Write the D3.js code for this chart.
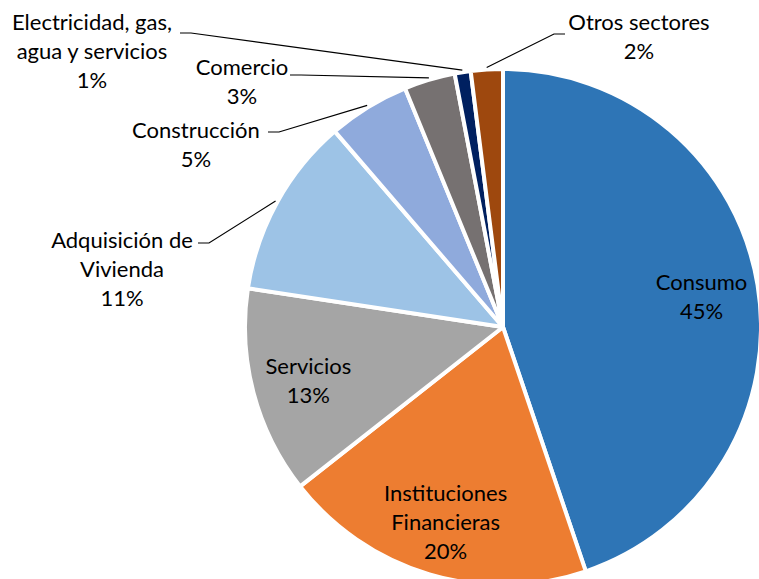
<!DOCTYPE html>
<html>
<head>
<meta charset="utf-8">
<script src="https://cdn.jsdelivr.net/npm/d3@7"></script>
<style>
  body { margin: 0; background: #fff; }
  svg text { font-family: Lato, "Open Sans", sans-serif; font-size: 22px; fill: #000; }
</style>
</head>
<body>
<svg id="chart" width="759" height="579"></svg>
<script>
// data (share of total, %)
const categories = [
  "Consumo",
  "Instituciones Financieras",
  "Servicios",
  "Adquisición de Vivienda",
  "Construcción",
  "Comercio",
  "Electricidad, gas, agua y servicios",
  "Otros sectores",
];
const shares = [44.8, 19.6, 13.0, 11.3, 5.1, 3.2, 1.0, 2.0];
const labelLines = [
  ["Consumo"],
  ["Instituciones", "Financieras"],
  ["Servicios"],
  ["Adquisición de", "Vivienda"],
  ["Construcción"],
  ["Comercio"],
  ["Electricidad, gas,", "agua y servicios"],
  ["Otros sectores"],
];
const colors = [
  "#2E75B6", "#ED7D31", "#A5A5A5", "#9DC3E6",
  "#8FAADC", "#767171", "#002060", "#9E480E",
];

// label layout for the slices whose labels sit outside the pie
// x = text centre, y = first baseline, lead = where the leader line starts, dir = side of the pie
const outside = {
  3: { x: 122, y: 248, lead: [198, 243], dir: 1 },
  4: { x: 196, y: 138, lead: [268, 132], dir: 1 },
  5: { x: 242, y: 75, lead: [290, 75], dir: 1 },
  6: { x: 92, y: 30, lead: [180, 33], dir: 1 },
  7: { x: 639, y: 30, lead: [565, 34], dir: -1 },
};

const width = 759;
const height = 579;
const cx = 503;
const cy = 327;
const radius = 258;
const lineH = 29;

const data = categories.map((c, i) => ({
  name: c,
  value: shares[i],
  lines: labelLines[i],
  color: colors[i],
  idx: i,
}));
const total = d3.sum(data, (d) => d.value);
const pct = d3.format(".0%");

const svg = d3.select("#chart");
const g = svg.append("g").attr("transform", "translate(" + cx + "," + cy + ")");

const pie = d3.pie().sort(null).value((d) => d.value);
const arcs = pie(data);

const arc = d3.arc().innerRadius(0).outerRadius(radius);
const labelArc = d3.arc().innerRadius(radius * 0.78).outerRadius(radius * 0.78);
const edgeArc = d3.arc().innerRadius(radius + 2).outerRadius(radius + 2);

g.selectAll("path.slice")
  .data(arcs)
  .join("path")
  .attr("class", "slice")
  .attr("d", arc)
  .attr("fill", (d) => d.data.color)
  .attr("stroke", "#fff")
  .attr("stroke-width", 4)
  .attr("stroke-linejoin", "round");

// labels inside the pie
arcs
  .filter((d) => !(d.data.idx in outside))
  .forEach((d) => {
    const lines = d.data.lines.concat([pct(d.data.value / total)]);
    const [px, py] = labelArc.centroid(d);
    const t = g
      .append("text")
      .attr("text-anchor", "middle")
      .attr("x", px)
      .attr("y", py - ((lines.length - 1) * lineH) / 2 + 10);
    lines.forEach((l, i) => {
      t.append("tspan").attr("x", px).attr("dy", i === 0 ? 0 : lineH).text(l);
    });
  });

// labels outside with leader lines
arcs
  .filter((d) => d.data.idx in outside)
  .forEach((d) => {
    const o = outside[d.data.idx];
    const lines = d.data.lines.concat([pct(d.data.value / total)]);
    const t = svg
      .append("text")
      .attr("text-anchor", "middle")
      .attr("x", o.x)
      .attr("y", o.y);
    lines.forEach((l, i) => {
      t.append("tspan").attr("x", o.x).attr("dy", i === 0 ? 0 : lineH).text(l);
    });

    const [ex, ey] = edgeArc.centroid(d);
    const pts = [
      o.lead,
      [o.lead[0] + 11 * o.dir, o.lead[1]],
      [ex + cx, ey + cy],
    ];
    svg
      .append("path")
      .attr("d", d3.line()(pts))
      .attr("fill", "none")
      .attr("stroke", "#000")
      .attr("stroke-width", 1.2);
  });
</script>
</body>
</html>
